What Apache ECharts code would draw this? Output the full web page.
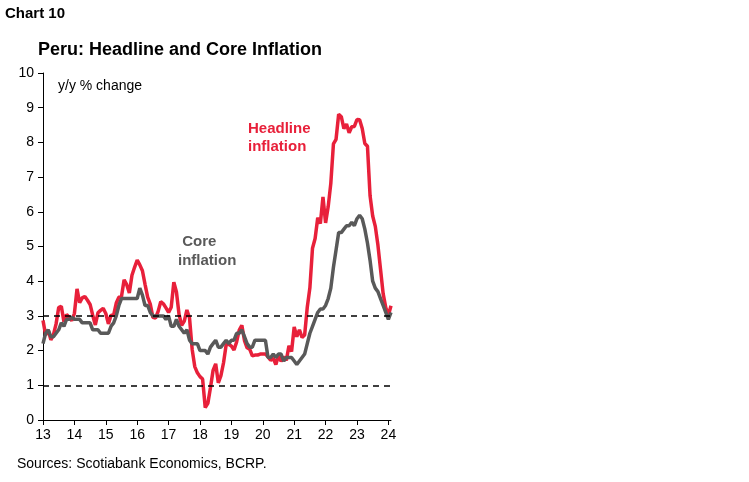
<!DOCTYPE html>
<html><head><meta charset="utf-8">
<script src="https://cdn.jsdelivr.net/npm/echarts@6/dist/echarts.min.js"></script>
<style>html,body{margin:0;padding:0;background:#fff}#c{width:749px;height:482px}</style>
</head><body><div id="c"></div>
<script>
// monthly, Jan 2013 - Feb 2024
const years = ['13','14','15','16','17','18','19','20','21','22','23','24'];
const headline = [
  2.87,2.45,2.59,2.31,2.46,2.77,3.24,3.28,2.83,3.04,2.96,2.86,
  3.07,3.78,3.38,3.52,3.56,3.45,3.33,3.02,2.74,3.09,3.16,3.22,
  3.07,2.77,3.02,3.02,3.37,3.54,3.56,4.04,3.90,3.66,4.17,4.40,
  4.61,4.47,4.30,3.91,3.54,3.34,2.96,2.94,3.13,3.41,3.35,3.23,
  3.10,3.25,3.97,3.69,3.04,2.73,2.85,3.17,2.94,2.04,1.54,1.36,
  1.25,1.18,0.36,0.48,0.93,1.43,1.62,1.07,1.28,1.65,2.17,2.19,
  2.13,2.02,2.25,2.59,2.73,2.29,2.08,2.04,1.85,1.87,1.87,1.90,
  1.90,1.90,1.82,1.72,1.78,1.60,1.86,1.69,1.82,1.72,2.14,1.97,
  2.68,2.40,2.60,2.38,2.45,3.25,3.81,4.95,5.23,5.83,5.66,6.43,
  5.68,6.15,6.82,7.96,8.09,8.81,8.74,8.40,8.53,8.28,8.45,8.46,
  8.66,8.65,8.40,7.97,7.89,6.46,5.88,5.58,5.04,4.34,3.64,3.24,
  3.02,3.29
];
const core = [
  2.2,2.5,2.6,2.4,2.4,2.5,2.6,2.8,2.7,2.9,2.9,2.97,
  2.9,2.9,2.9,2.8,2.8,2.8,2.8,2.6,2.6,2.6,2.5,2.5,
  2.5,2.5,2.7,2.8,3.0,3.3,3.5,3.5,3.5,3.5,3.5,3.5,
  3.5,3.8,3.6,3.3,3.3,3.1,3.0,3.0,3.0,3.0,3.0,2.9,
  3.0,2.7,2.7,2.9,2.7,2.6,2.5,2.6,2.3,2.2,2.2,2.2,
  2.0,2.0,2.0,1.9,2.1,2.2,2.3,2.1,2.1,2.2,2.3,2.2,
  2.3,2.3,2.5,2.5,2.6,2.4,2.2,2.1,2.1,2.3,2.3,2.3,
  2.3,2.3,1.8,1.8,1.9,1.8,1.9,1.9,1.7,1.8,1.8,1.8,
  1.7,1.6,1.7,1.8,1.9,2.2,2.5,2.7,2.9,3.1,3.2,3.2,
  3.3,3.5,3.8,4.4,4.9,5.4,5.4,5.5,5.6,5.6,5.7,5.6,
  5.8,5.9,5.8,5.5,5.1,4.6,4.0,3.8,3.7,3.5,3.3,3.1,
  2.9,3.1
];
const refLines = [3, 1];

const cats = headline.map((v, i) => i % 12 === 0 ? years[i / 12] : '');
const chart = echarts.init(document.getElementById('c'));
const ff = 'Arial, "Liberation Sans", sans-serif';
chart.setOption({
  animation: false,
  textStyle: { fontFamily: ff },
  grid: { left: 43, right: 358, top: 73, bottom: 62 },
  graphic: [
    { type: 'text', left: 5, top: 6, style: { text: 'Chart 10', font: 'bold 15px ' + ff, fill: '#000' } },
    { type: 'text', left: 38, top: 41, style: { text: 'Peru: Headline and Core Inflation', font: 'bold 18px ' + ff, fill: '#000' } },
    { type: 'text', left: 58, top: 79, style: { text: 'y/y % change', font: '14px ' + ff, fill: '#000' } },
    { type: 'text', left: 248, top: 120, style: { text: 'Headline\ninflation', font: 'bold 15px ' + ff, fill: '#e8203a', align: 'center', lineHeight: 18 } },
    { type: 'text', left: 178, top: 232, style: { text: ' Core\ninflation', font: 'bold 15px ' + ff, fill: '#595959', lineHeight: 19 } },
    { type: 'text', left: 17, top: 457, style: { text: 'Sources: Scotiabank Economics, BCRP.', font: '14px ' + ff, fill: '#000' } }
  ],
  xAxis: {
    type: 'category', data: cats, boundaryGap: false,
    axisLine: { lineStyle: { color: '#000' } },
    axisTick: { interval: 11, length: 5, lineStyle: { color: '#000' } },
    axisLabel: { interval: 11, color: '#000', fontSize: 14, margin: 8 }
  },
  yAxis: {
    type: 'value', min: 0, max: 10, interval: 1,
    axisLine: { show: true, lineStyle: { color: '#000' } },
    axisTick: { show: true, length: 5, lineStyle: { color: '#000' } },
    axisLabel: { color: '#000', fontSize: 14, margin: 9 },
    splitLine: { show: false }
  },
  series: [
    {
      type: 'line', data: core, symbol: 'none', z: 3,
      lineStyle: { color: '#595959', width: 3.5 },
      markLine: {
        silent: true, symbol: 'none', label: { show: false },
        lineStyle: { color: '#000', type: [6, 5], width: 1.5 },
        data: refLines.map(v => ({ yAxis: v }))
      }
    },
    {
      type: 'line', data: headline, symbol: 'none', z: 2,
      lineStyle: { color: '#e8203a', width: 3.5 }
    }
  ]
});
</script></body></html>
